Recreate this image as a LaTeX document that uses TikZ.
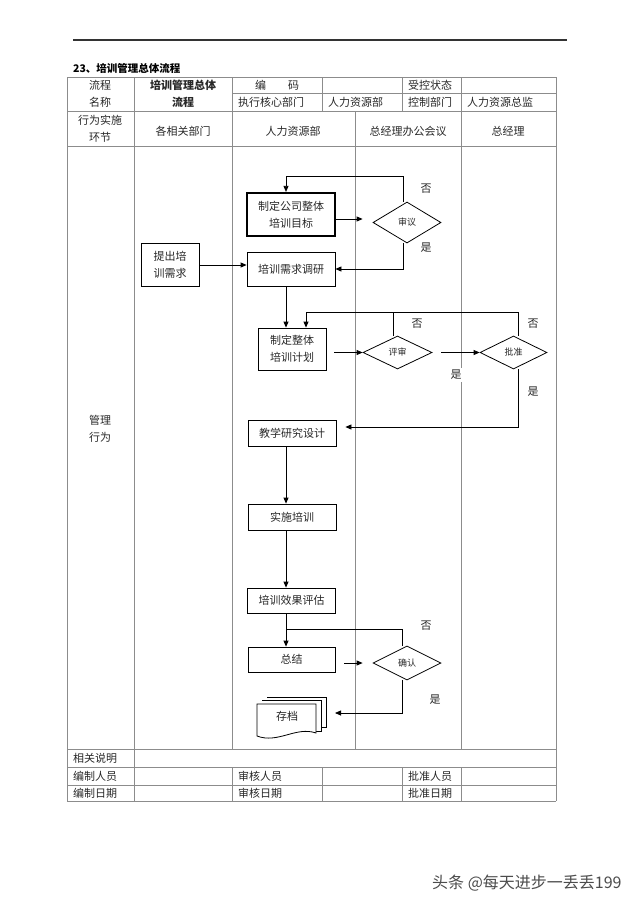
\documentclass[tikz,border=0pt]{standalone}
\usepackage{fontspec}
\setmainfont{Noto Sans CJK SC}
\usetikzlibrary{shapes.geometric,arrows.meta}
\definecolor{tline}{RGB}{140,140,140}
\definecolor{txt}{RGB}{40,40,40}
\tikzset{
 tbl/.style={draw=tline, line width=0.9pt},
 htext/.style={font=\fontsize{11}{17}\selectfont, text=txt, inner sep=0pt, align=center},
 ltext/.style={htext, anchor=west},
 box/.style={draw=black, line width=0.8pt, align=center, font=\fontsize{11}{17}\selectfont, inner sep=0pt, text=txt},
 dia/.style={draw=black, line width=0.8pt, shape=diamond, inner sep=0pt, font=\fontsize{9}{10}\selectfont, text=txt},
 flow/.style={draw=black, line width=0.8pt},
 arr/.style={flow, -{Triangle[length=6pt,width=5pt]}},
 lab/.style={font=\fontsize{11}{12}\selectfont, text=txt, inner sep=1pt},
}
\begin{document}
\begin{tikzpicture}[x=1pt,y=-1pt]
\fill[white] (0,0) rectangle (640,905);
\useasboundingbox (0,0) rectangle (640,905);
% top rule and title
\draw[line width=1.3pt, black!80] (73,40) -- (567,40);
\node[anchor=west, inner sep=0pt, font=\bfseries\fontsize{10.5}{12}\selectfont] (title) at (73,68) {23、培训管理总体流程};
% table horizontal lines
\draw[tbl] (67,77) -- (556,77);
\draw[tbl] (232,93) -- (556,93);
\draw[tbl] (67,111) -- (556,111);
\draw[tbl] (67,146) -- (556,146);
\draw[tbl] (67,749) -- (556,749);
\draw[tbl] (67,767) -- (556,767);
\draw[tbl] (67,785) -- (556,785);
\draw[tbl] (67,801) -- (556,801);
% table vertical lines
\draw[tbl] (67,77) -- (67,801);
\draw[tbl] (556,77) -- (556,801);
\draw[tbl] (134,77) -- (134,801);
\draw[tbl] (232,77) -- (232,749);
\draw[tbl] (232,767) -- (232,801);
\draw[tbl] (322,77) -- (322,111);
\draw[tbl] (322,767) -- (322,801);
\draw[tbl] (402,77) -- (402,111);
\draw[tbl] (402,767) -- (402,801);
\draw[tbl] (461,77) -- (461,749);
\draw[tbl] (461,767) -- (461,801);
\draw[tbl] (355,111) -- (355,749);
% header texts
\node[htext] (h1) at (100,94) {流程\\名称};
\node[htext, font=\bfseries\fontsize{11}{17}\selectfont] (h2) at (183,94) {培训管理总体\\流程};
\node[htext] (h3) at (277,85) {编\hspace{22pt}码};
\node[ltext] (h4) at (408,85) {受控状态};
\node[ltext] (h5) at (238,102) {执行核心部门};
\node[ltext] (h6) at (328,102) {人力资源部};
\node[ltext] (h7) at (408,102) {控制部门};
\node[ltext] (h8) at (467,102) {人力资源总监};
\node[htext] (r1) at (100,128.5) {行为实施\\环节};
\node[htext] (r2) at (183,131) {各相关部门};
\node[htext] (r3) at (293,131) {人力资源部};
\node[htext] (r4) at (408,131) {总经理办公会议};
\node[htext] (r5) at (508,131) {总经理};
\node[htext] (gl) at (100,429) {管理\\行为};
% footer texts
\node[ltext] (f1) at (73,758) {相关说明};
\node[ltext] (f2) at (73,776) {编制人员};
\node[ltext] (f3) at (238,776) {审核人员};
\node[ltext] (f4) at (408,776) {批准人员};
\node[ltext] (f5) at (73,793) {编制日期};
\node[ltext] (f6) at (238,793) {审核日期};
\node[ltext] (f7) at (408,793) {批准日期};
% flow nodes
\node[box, minimum width=58pt, minimum height=43pt] (req) at (170,265) {提出培\\训需求};
\node[box, line width=2.2pt, minimum width=88pt, minimum height=43pt] (goal) at (291,214.5) {制定公司整体\\培训目标};
\node[dia, minimum width=68pt, minimum height=41pt] (shenyi) at (407,222.5) {审议};
\node[box, minimum width=88pt, minimum height=34pt] (survey) at (291,269) {培训需求调研};
\node[box, minimum width=68pt, minimum height=42pt] (plan) at (292,349) {制定整体\\培训计划};
\node[dia, minimum width=69pt, minimum height=33pt] (pingshen) at (397.5,352.5) {评审};
\node[dia, minimum width=67pt, minimum height=33pt] (pizhun) at (513.5,352.5) {批准};
\node[box, minimum width=88pt, minimum height=26pt] (design) at (292,433) {教学研究设计};
\node[box, minimum width=88pt, minimum height=26pt] (impl) at (292,517) {实施培训};
\node[box, minimum width=88pt, minimum height=25pt] (eval) at (291.5,600.5) {培训效果评估};
\node[box, minimum width=87pt, minimum height=25pt] (summ) at (291.5,659.5) {总结};
\node[dia, minimum width=68pt, minimum height=34pt] (confirm) at (407,663) {确认};
% archive (multi-document)
\draw[flow, fill=white] (267,697) -- (326,697) -- (326,727) -- (321,727);
\draw[flow, fill=white] (262,700) -- (321,700) -- (321,731) -- (316,731);
\draw[flow, fill=white] (257,704) -- (316,704) -- (316,733) .. controls (296,726) and (278,744) .. (257,736) -- cycle;
\node[htext] (archive) at (287,716) {存档};
\coordinate (archR) at (335,713);
% labels
\node[lab] (no1) at (426,189) {否};
\node[lab] (yes1) at (426,248) {是};
\node[lab] (no2) at (417,324) {否};
\node[lab] (no3) at (533,324) {否};
\node[lab, fill=white, inner sep=2pt] (yes2) at (456,375) {是};
\node[lab] (yes3) at (533,392) {是};
\node[lab] (no4) at (426,626) {否};
\node[lab] (yes4) at (435,700) {是};
% connectors
\draw[arr] ([yshift=-4.5pt]goal.east) -- ([yshift=-4.5pt,xshift=-10pt]goal.east -| shenyi.west);
\draw[arr] ([xshift=-4pt]shenyi.north) |- ([xshift=-5pt,yshift=16pt]goal.north) -- ([xshift=-5pt]goal.north);
\draw[arr] ([xshift=-4pt]shenyi.south) |- (survey.east);
\draw[arr] (req.east) -- (req.east -| survey.west);
\draw[arr] ([xshift=-5pt]survey.south) -- ([xshift=-5pt]survey.south |- plan.north);
\coordinate (loop) at (306,312);
\draw[arr] ([xshift=5pt]pizhun.north) |- (loop) -- (loop |- plan.north);
\draw[flow] (pingshen.north -| 393,0) -- (393,312);
\draw[arr] ([xshift=8pt]plan.east |- pingshen.west) -- (pingshen.west);
\draw[arr] ([xshift=9pt]pingshen.east) -- (pizhun.west);
\draw[arr] ([xshift=5pt]pizhun.south) |- ([xshift=9pt,yshift=6pt]design.east);
\draw[arr] ([xshift=-6pt]design.south) -- ([xshift=-6pt]design.south |- impl.north);
\draw[arr] ([xshift=-6pt]impl.south) -- ([xshift=-6pt]impl.south |- eval.north);
\draw[arr] ([xshift=-5.5pt]eval.south) -- ([xshift=-5.5pt]eval.south |- summ.north);
\coordinate (j3) at (286,629);
\draw[flow] ([xshift=-5pt]confirm.north) |- (j3);
\draw[arr] ([xshift=9pt,yshift=-3.5pt]summ.east) -- ([xshift=-10pt]confirm.west);
\draw[arr] ([xshift=-5pt]confirm.south) |- (archR);
% watermark
\node[anchor=west, inner sep=0pt, font=\fontsize{16}{18}\selectfont, text=black!70] (wm) at (432,883) {头条 @每天进步一丢丢199};
\end{tikzpicture}
\end{document}
